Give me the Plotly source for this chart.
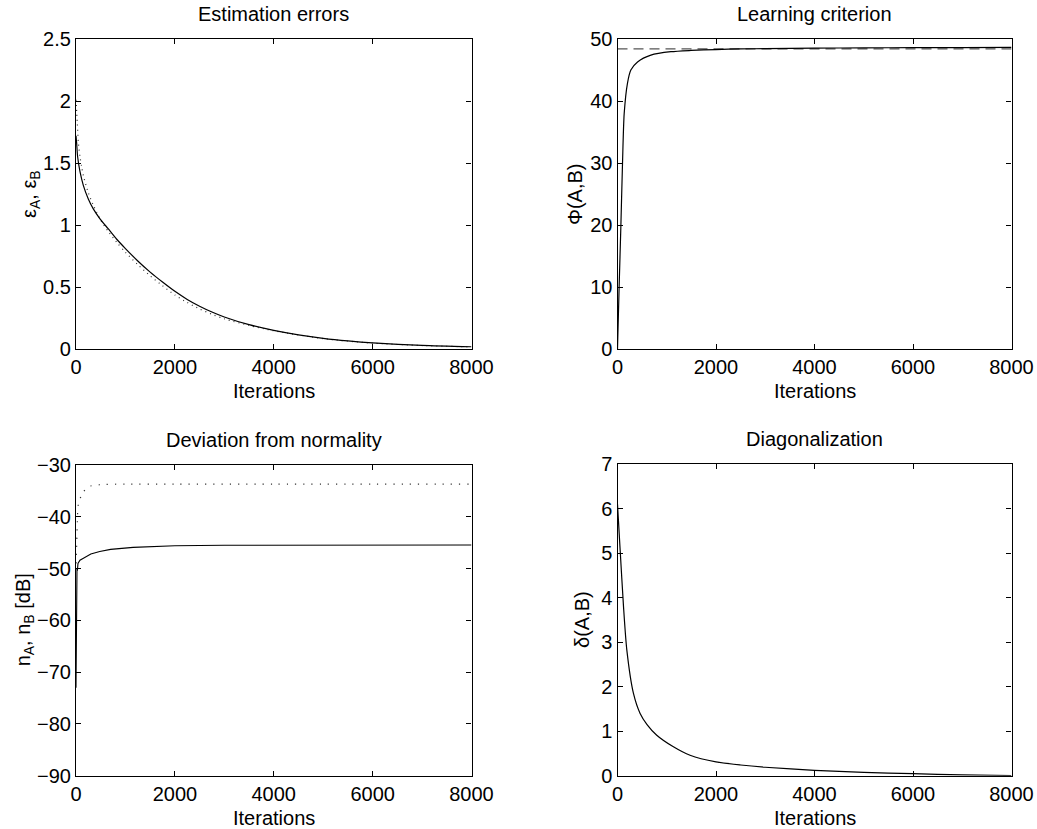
import plotly.graph_objects as go

W, H = 1037, 829

# ---- data ----
x_epsA = [0, 13, 33, 81, 148, 249, 350, 485, 650, 824, 1000, 1250, 1500, 1750, 2000, 2250,
          2500, 2750, 3000, 3500, 4000, 4500, 5000, 5500, 6000, 7000, 8000]
y_epsA = [1.72, 1.66, 1.55, 1.43, 1.32, 1.21, 1.13, 1.05, 0.97, 0.885, 0.81, 0.71, 0.62, 0.54,
          0.465, 0.40, 0.345, 0.298, 0.258, 0.196, 0.15, 0.114, 0.086, 0.065, 0.049, 0.029, 0.018]

x_epsB = [0, 27, 47, 81, 115, 148, 249, 350, 485, 650, 824, 1000, 1250, 1500, 1750, 2000,
          2250, 2500, 2750, 3000, 3500, 4000, 5000, 6000, 7000, 8000]
y_epsB = [2.01, 1.82, 1.67, 1.55, 1.47, 1.40, 1.26, 1.16, 1.05, 0.95, 0.86, 0.78, 0.68, 0.59,
          0.51, 0.435, 0.375, 0.323, 0.28, 0.243, 0.19, 0.147, 0.084, 0.047, 0.028, 0.017]

x_phi = [0, 33, 68, 102, 136, 203, 271, 407, 678, 1085, 1492, 2000, 2500, 3000, 4000, 5000,
         6000, 7000, 8000]
y_phi = [0, 10, 19.7, 30, 38, 42.9, 45, 46.3, 47.4, 47.95, 48.15, 48.3, 48.4, 48.45, 48.52,
         48.57, 48.6, 48.62, 48.64]
x_phi_opt = [0, 8000]
y_phi_opt = [48.4, 48.4]

x_nA = [0, 20, 28, 40, 80, 150, 209, 300, 480, 700, 1155, 1500, 2000, 3000, 4000, 6000, 8000]
y_nA = [-73, -50, -50.4, -49.0, -48.4, -48.0, -47.7, -47.2, -46.7, -46.3, -45.9, -45.75, -45.6,
        -45.5, -45.5, -45.45, -45.45]

x_nB = [0, 15, 27, 47, 135, 249, 480, 1000, 2000, 4000, 8000]
y_nB = [-49, -45, -41, -37.6, -35.4, -34.2, -33.8, -33.7, -33.7, -33.7, -33.7]

x_delta = [0, 54, 122, 189, 324, 459, 600, 797, 1135, 1473, 2000, 2500, 3000, 4000, 5000,
           6000, 7000, 8000]
y_delta = [6.1, 5.07, 3.8, 2.83, 1.85, 1.4, 1.15, 0.91, 0.65, 0.46, 0.31, 0.24, 0.19, 0.12,
           0.075, 0.045, 0.02, 0.005]

x_ticks = [0, 2000, 4000, 6000, 8000]
titles = ["Estimation errors", "Learning criterion", "Deviation from normality", "Diagonalization"]
ytitles = ["ε<sub>A</sub>, ε<sub>B</sub>", "Φ(A,B)", "n<sub>A</sub>, n<sub>B</sub> [dB]", "δ(A,B)"]
y_ranges = [[0, 2.5], [0, 50], [-90, -30], [0, 7]]
y_dticks = [0.5, 10, 10, 1]

FONT = "Liberation Sans, Arial, Helvetica, sans-serif"
FS = 20

# pixel boxes (left, right, top, bottom)
boxes = [(76, 471.5, 39, 349), (617.5, 1011.5, 39, 349),
         (76, 471.5, 465, 775.7), (617.5, 1011.5, 464.3, 775.7)]

fig = go.Figure()

def add(x, y, i, color="black", dash="solid", width=1.2, shape="spline"):
    suffix = "" if i == 0 else str(i + 1)
    line = dict(color=color, dash=dash, width=width, shape=shape)
    if shape == "spline":
        line["smoothing"] = 0.7
    fig.add_trace(go.Scatter(x=x, y=y, mode="lines", xaxis="x" + suffix, yaxis="y" + suffix,
                             line=line, showlegend=False, hoverinfo="skip"))

add(x_epsB, y_epsB, 0, color="#333333", dash="1px,4px", width=1.2)
add(x_epsA, y_epsA, 0)
add(x_phi_opt, y_phi_opt, 1, color="#555555", dash="10px,6px", width=1.2, shape="linear")
add(x_phi, y_phi, 1)
add(x_nB, y_nB, 2, color="#333333", dash="1.2px,7px", width=1.2)
add(x_nA, y_nA, 2, shape="linear", width=1.1)
add(x_delta, y_delta, 3)

layout = dict(width=W, height=H, autosize=False,
              margin=dict(l=0, r=0, t=0, b=0, pad=0, autoexpand=False),
              paper_bgcolor="white", plot_bgcolor="white",
              font=dict(family=FONT, size=FS, color="black"), annotations=[])

for i, (l, r, t, b) in enumerate(boxes):
    suffix = "" if i == 0 else str(i + 1)
    common = dict(showline=True, linecolor="black", linewidth=1.2, mirror="ticks",
                  ticks="inside", ticklen=5, tickwidth=1, tickcolor="black",
                  showgrid=False, zeroline=False, automargin=False,
                  tickfont=dict(family=FONT, size=FS, color="black"))
    layout["xaxis" + suffix] = dict(common, domain=[l / W, r / W], range=[0, 8000],
                                    tickvals=x_ticks, ticktext=[str(v) for v in x_ticks],
                                    anchor="y" + suffix)
    layout["yaxis" + suffix] = dict(common, domain=[1 - b / H, 1 - t / H], range=y_ranges[i],
                                    dtick=y_dticks[i], tick0=y_ranges[i][0],
                                    anchor="x" + suffix)
    cx = (l + r) / 2 / W
    layout["annotations"].append(dict(text=titles[i], x=cx, y=1 - (t - 25) / H, xref="paper",
                                      yref="paper", showarrow=False, xanchor="center",
                                      yanchor="middle", font=dict(family=FONT, size=FS)))
    layout["annotations"].append(dict(text="Iterations", x=cx, y=1 - (b + 42) / H, xref="paper",
                                      yref="paper", showarrow=False, xanchor="center",
                                      yanchor="middle", font=dict(family=FONT, size=FS)))

ytitle_x = [31, 575, 24, 582]
for i, (l, r, t, b) in enumerate(boxes):
    layout["annotations"].append(dict(text=ytitles[i], x=ytitle_x[i] / W, y=1 - (t + b) / 2 / H,
                                      xref="paper", yref="paper", showarrow=False,
                                      textangle=-90, xanchor="center", yanchor="middle",
                                      font=dict(family=FONT, size=FS)))

fig.update_layout(**layout)
fig.write_html("out.html", config={"responsive": False})
